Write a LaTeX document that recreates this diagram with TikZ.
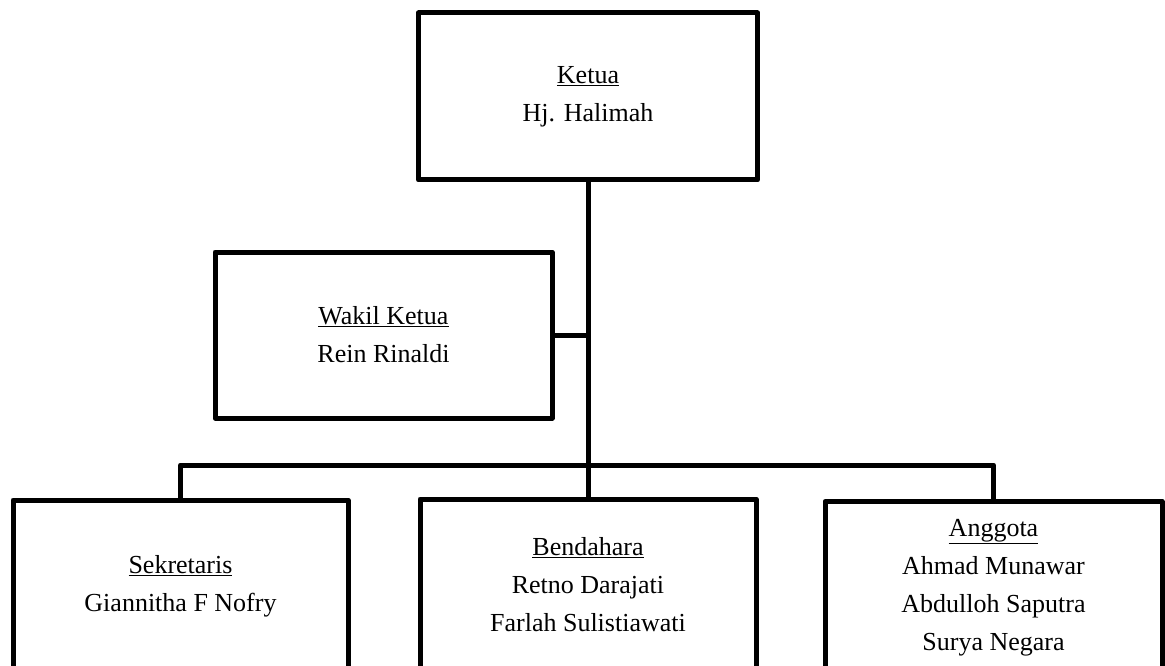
\documentclass[tikz,border=0pt]{standalone}
\usepackage{fontspec}
\setmainfont{Liberation Serif}
\begin{document}
\begin{tikzpicture}[x=1pt,y=-1pt,
  orgbox/.style={draw=black, line width=5pt, line join=round, fill=white,
    inner sep=0pt, align=center, font=\fontsize{26}{38}\selectfont},
  link/.style={draw=black, line width=5pt, line join=round}]
\useasboundingbox (0,0) rectangle (1165,666);
\begin{scope}
\clip (0,0) rectangle (1165,666);
\node[orgbox, minimum width=339pt, minimum height=167pt] (ketua) at (588,96.5)
  {\underline{Ketua}\\Hj. Halimah};
\node[orgbox, minimum width=337pt, minimum height=166pt] (wakil) at (383.5,335)
  {\underline{Wakil Ketua}\\Rein Rinaldi};
\node[orgbox, minimum width=335pt, minimum height=172pt] (sek) at (180.5,586)
  {\underline{Sekretaris}\\Giannitha F Nofry};
\node[orgbox, minimum width=336pt, minimum height=172pt] (bend) at (588,585)
  {\underline{Bendahara}\\Retno Darajati\\Farlah Sulistiawati};
\node[orgbox, minimum width=337pt, minimum height=172pt] (ang) at (993.5,587.5)
  {\underline{Anggota}\\Ahmad Munawar\\Abdulloh Saputra\\Surya Negara};
\coordinate (hub) at (588,465);
\draw[link] (ketua.south) -- (hub) -- (bend.north);
\draw[link] (wakil.east) -- (wakil.east -| hub);
\draw[link] (sek.north) -- (sek.north |- hub) -- (ang.north |- hub) -- (ang.north);
\end{scope}
\end{tikzpicture}
\end{document}
